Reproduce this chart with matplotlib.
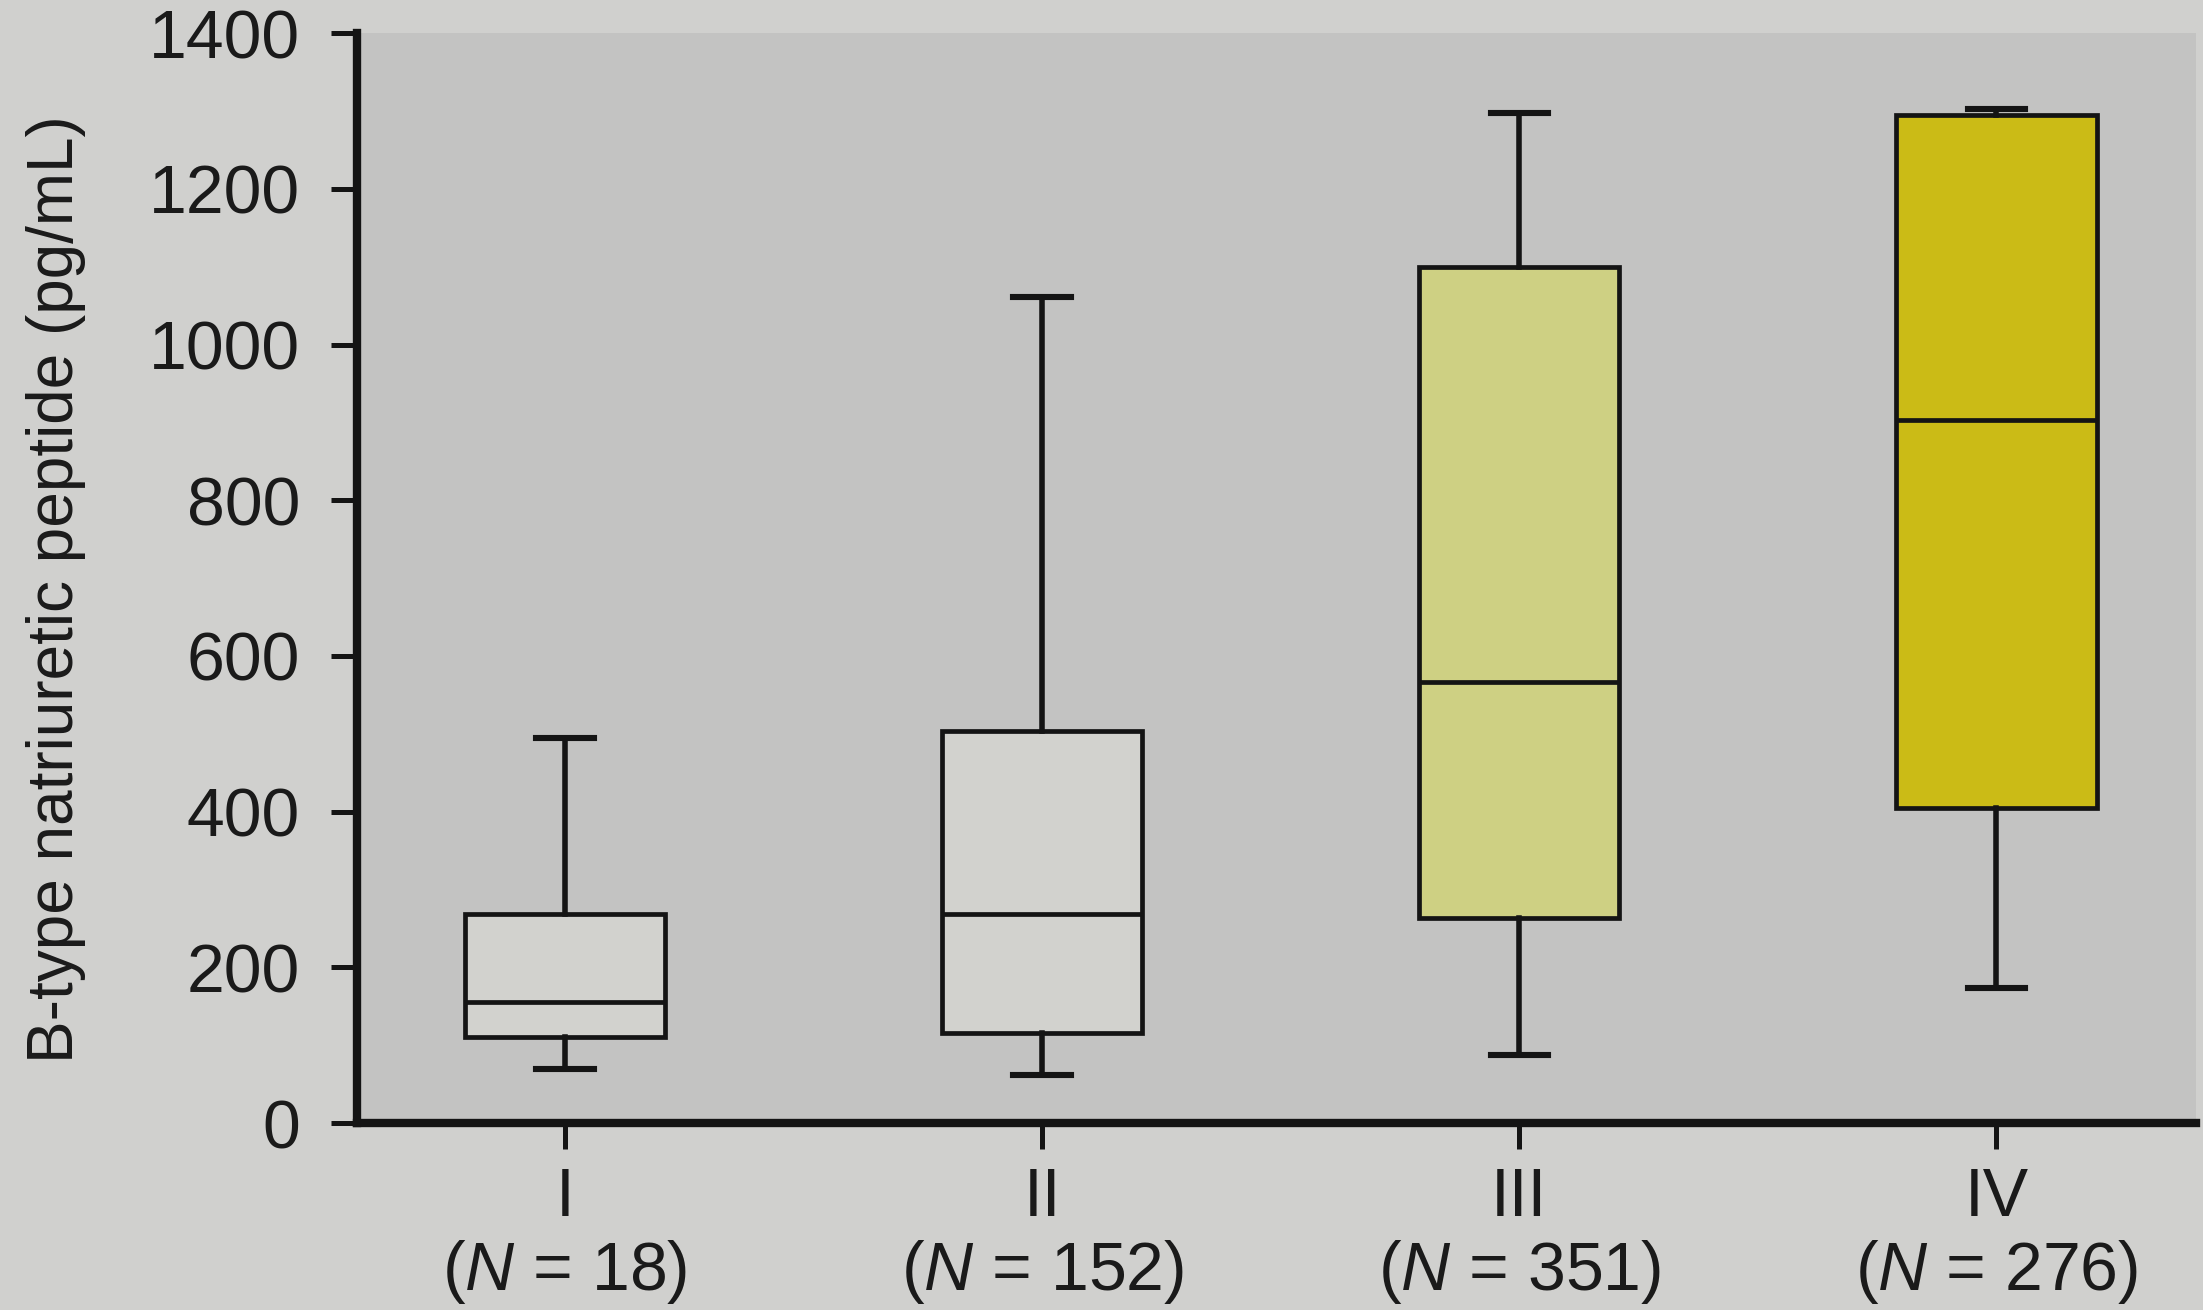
import matplotlib
matplotlib.use("Agg")
import matplotlib.pyplot as plt

plt.rcParams["font.family"] = ["Liberation Sans", "DejaVu Sans"]
plt.rcParams["mathtext.fontset"] = "custom"
plt.rcParams["mathtext.it"] = "Liberation Sans:italic"
plt.rcParams["mathtext.rm"] = "Liberation Sans"

# ----------------------------------------------------------------
# DATA (pg/mL)
# ----------------------------------------------------------------
classes = ["I", "II", "III", "IV"]
n_counts = [18, 152, 351, 276]
whisker_low = [69, 62, 87, 173]
q1 = [110, 116, 264, 405]
median = [155, 269, 567, 903]
q3 = [268, 504, 1100, 1295]
whisker_high = [494, 1061, 1298, 1302]

box_colors = ["#d2d2ce", "#d2d2ce", "#ced083", "#cbbb16"]
FIG_BG = "#d0d0ce"
AX_BG = "#c3c3c2"
INK = "#141414"

# ----------------------------------------------------------------
# PLOT
# ----------------------------------------------------------------
fig = plt.figure(figsize=(22.03, 13.10), dpi=100, facecolor=FIG_BG)
ax = fig.add_axes([0.162, 0.1427, 0.835, 0.832], facecolor=AX_BG)

stats = []
for i, name in enumerate(classes):
    stats.append({
        "label": name,
        "whislo": whisker_low[i],
        "q1": q1[i],
        "med": median[i],
        "q3": q3[i],
        "whishi": whisker_high[i],
        "fliers": [],
    })

positions = list(range(1, len(classes) + 1))
bp = ax.bxp(
    stats, positions=positions, widths=0.42, patch_artist=True,
    showfliers=False, capwidths=0.12,
    boxprops=dict(linewidth=3.4, edgecolor=INK),
    medianprops=dict(linewidth=3.4, color=INK),
    whiskerprops=dict(linewidth=4.0, color=INK),
    capprops=dict(linewidth=4.4, color=INK),
)
for patch, c in zip(bp["boxes"], box_colors):
    patch.set_facecolor(c)

ax.set_xlim(0.564, 4.419)
ax.set_ylim(0, 1400)
ax.set_yticks(range(0, 1401, 200))

ax.set_xticks(positions)
ax.set_xticklabels([f"{c}\n($\\mathit{{N}}$ = {n})" for c, n in zip(classes, n_counts)],
                   linespacing=1.15)

ax.spines["top"].set_visible(False)
ax.spines["right"].set_visible(False)
for s in ["left", "bottom"]:
    ax.spines[s].set_linewidth(6)
    ax.spines[s].set_color(INK)

ax.tick_params(axis="both", direction="out", length=19, width=3.6,
               color=INK, labelsize=49, labelcolor="#1a1a1a")
ax.tick_params(axis="y", pad=22)
ax.tick_params(axis="x", pad=12)

ax.set_ylabel("B-type natriuretic peptide (pg/mL)", fontsize=46, color="#1a1a1a")
ax.yaxis.set_label_coords(-0.147, 0.49)

fig.savefig("out.png", dpi=100, facecolor=FIG_BG)
